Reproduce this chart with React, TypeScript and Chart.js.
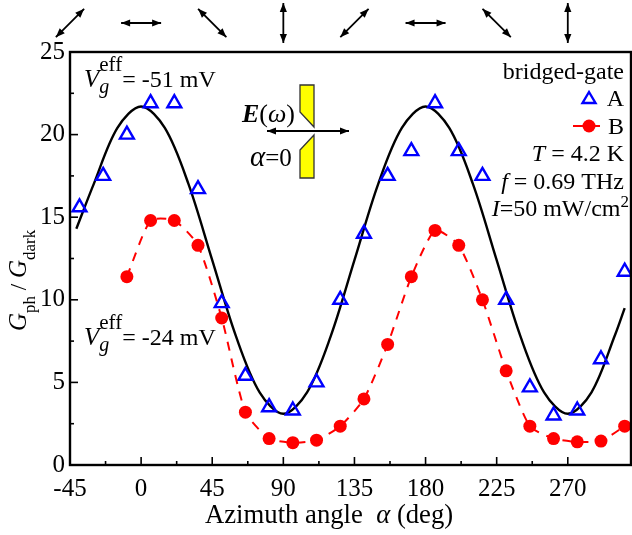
import React, { useEffect, useRef } from "react";
import { Chart, registerables } from "chart.js";

Chart.register(...registerables);

const angles = [-39, -24, -9, 6, 21, 36, 51, 66, 81, 96, 111, 126, 141, 156, 171, 186, 201, 216, 231, 246, 261, 276, 291, 306];
const seriesA = [15.6, 17.5, 20, 21.9, 21.9, 16.7, 9.8, 5.4, 3.5, 3.3, 5, 10, 14, 17.5, 19, 21.9, 19, 17.5, 10, 4.7, 3, 3.3, 6.4, 11.7];
const anglesB = [-9, 6, 21, 36, 51, 66, 81, 96, 111, 126, 141, 156, 171, 186, 201, 216, 231, 246, 261, 276, 291, 306];
const seriesB = [11.4, 14.8, 14.8, 13.3, 8.9, 3.2, 1.6, 1.35, 1.5, 2.35, 4, 7.3, 11.4, 14.2, 13.3, 10, 5.7, 2.35, 1.6, 1.4, 1.45, 2.35];
const fitAngles = [-41, -30, -15, 0, 15, 30, 45, 60, 75, 90, 105, 120, 135, 150, 165, 180, 195, 210, 225, 240, 255, 270, 285, 300, 306];
const fitValues = [14.3, 17, 20.4, 21.7, 20.4, 17, 12.4, 7.8, 4.4, 3.1, 4.4, 7.8, 12.4, 17, 20.4, 21.7, 20.4, 17, 12.4, 7.8, 4.4, 3.1, 4.4, 7.9, 9.5];
const arrowAngles = [-45, 0, 45, 90, 135, 180, 225, 270];

const SERIF = '"Liberation Serif", "Times New Roman", serif';
type Run = { t: string; size?: number; style?: string; dy?: number; noAdv?: boolean };

function font(r: Run, base: number) {
  return `${r.style ? r.style + " " : ""}${r.size ?? base}px ${SERIF}`;
}
function drawRuns(ctx: CanvasRenderingContext2D, x: number, y: number, runs: Run[], base: number, align: "left" | "right" | "center" = "left") {
  let total = 0;
  for (const r of runs) {
    ctx.font = font(r, base);
    if (!r.noAdv) total += ctx.measureText(r.t).width;
  }
  let cx = align === "left" ? x : align === "right" ? x - total : x - total / 2;
  ctx.textAlign = "left";
  ctx.textBaseline = "alphabetic";
  ctx.fillStyle = "#000";
  for (const r of runs) {
    ctx.font = font(r, base);
    ctx.fillText(r.t, cx, y + (r.dy ?? 0));
    if (!r.noAdv) cx += ctx.measureText(r.t).width;
  }
}
function head(ctx: CanvasRenderingContext2D, x: number, y: number, a: number, len = 9, half = 3.6) {
  const c = Math.cos(a), s = Math.sin(a);
  ctx.beginPath();
  ctx.moveTo(x, y);
  ctx.lineTo(x - c * len - s * half, y - s * len + c * half);
  ctx.lineTo(x - c * len + s * half, y - s * len - c * half);
  ctx.closePath();
  ctx.fill();
}
function doubleArrow(ctx: CanvasRenderingContext2D, cx: number, cy: number, half: number, a: number) {
  const c = Math.cos(a), s = Math.sin(a);
  ctx.strokeStyle = "#000";
  ctx.fillStyle = "#000";
  ctx.lineWidth = 1.8;
  ctx.beginPath();
  ctx.moveTo(cx - c * half, cy - s * half);
  ctx.lineTo(cx + c * half, cy + s * half);
  ctx.stroke();
  head(ctx, cx + c * half, cy + s * half, a);
  head(ctx, cx - c * half, cy - s * half, a + Math.PI);
}
function poly(ctx: CanvasRenderingContext2D, pts: number[][]) {
  ctx.beginPath();
  pts.forEach((p, i) => (i ? ctx.lineTo(p[0], p[1]) : ctx.moveTo(p[0], p[1])));
  ctx.closePath();
  ctx.fillStyle = "#ffff00";
  ctx.fill();
  ctx.strokeStyle = "#333";
  ctx.lineWidth = 1.3;
  ctx.stroke();
}

const decor = {
  id: "decor",
  afterDraw(chart: any) {
    const ctx: CanvasRenderingContext2D = chart.ctx;
    const { left, right, top, bottom } = chart.chartArea;
    const xs = chart.scales.x, ys = chart.scales.y;
    ctx.save();
    ctx.strokeStyle = "#000";
    ctx.lineWidth = 1.6;
    xs.ticks.forEach((t: any) => {
      const p = xs.getPixelForValue(t.value);
      const len = t.value % 45 === 0 ? 8 : 4;
      ctx.beginPath();
      ctx.moveTo(p, bottom);
      ctx.lineTo(p, bottom - len);
      ctx.stroke();
    });
    ys.ticks.forEach((t: any) => {
      const p = ys.getPixelForValue(t.value);
      const len = t.value % 5 === 0 ? 8 : 4;
      ctx.beginPath();
      ctx.moveTo(left, p);
      ctx.lineTo(left + len, p);
      ctx.stroke();
    });
    ctx.lineWidth = 2.4;
    ctx.strokeRect(left, top, right - left, bottom - top);

    arrowAngles.forEach((a) => {
      doubleArrow(ctx, xs.getPixelForValue(a), 23, 20, (a * Math.PI) / 180);
    });

    poly(ctx, [[300, 85], [314, 85], [314, 127], [300, 112]]);
    poly(ctx, [[300, 150], [314, 135], [314, 178], [300, 178]]);
    doubleArrow(ctx, 308, 131, 41, 0);
    drawRuns(ctx, 242, 122, [{ t: "E", style: "italic bold" }, { t: "(" }, { t: "ω", style: "italic" }, { t: ")" }], 26);
    drawRuns(ctx, 250, 166, [{ t: "α", style: "italic", size: 29 }, { t: "=0" }], 25);

    const vg = (x: number, y: number, v: string) => {
      drawRuns(ctx, x, y, [
        { t: "V", style: "italic", size: 25 },
        { t: "g", style: "italic", size: 20, dy: 6, noAdv: true },
        { t: "eff", size: 21, dy: -16 },
        { t: "= " + v + " mV", size: 24 },
      ], 24);
    };
    vg(84, 87, "-51");
    vg(84, 345, "-24");

    const R = 624;
    drawRuns(ctx, R, 79, [{ t: "bridged-gate" }], 24, "right");
    drawRuns(ctx, R, 106, [{ t: "A" }], 24, "right");
    drawRuns(ctx, R, 134, [{ t: "B" }], 24, "right");
    drawRuns(ctx, R, 161, [{ t: "T", style: "italic" }, { t: " = 4.2 K" }], 24, "right");
    drawRuns(ctx, R, 189, [{ t: "f", style: "italic" }, { t: " = 0.69 THz" }], 24, "right");
    drawRuns(ctx, 629, 216, [{ t: "I", style: "italic" }, { t: "=50 mW/cm" }, { t: "2", size: 17, dy: -9 }], 24, "right");

    ctx.strokeStyle = "#0000ff";
    ctx.lineWidth = 2.4;
    ctx.beginPath();
    ctx.moveTo(589, 92); ctx.lineTo(595.5, 103); ctx.lineTo(582.5, 103);
    ctx.closePath();
    ctx.stroke();
    ctx.strokeStyle = "#ff0000";
    ctx.lineWidth = 2;
    ctx.beginPath();
    ctx.moveTo(573, 126); ctx.lineTo(600, 126);
    ctx.stroke();
    ctx.fillStyle = "#ff0000";
    ctx.beginPath();
    ctx.arc(589, 126, 6.5, 0, Math.PI * 2);
    ctx.fill();

    drawRuns(ctx, 205, 523, [{ t: "Azimuth angle  " }, { t: "α", style: "italic" }, { t: " (deg)" }], 26.7);
    ctx.translate(26, 331);
    ctx.rotate(-Math.PI / 2);
    drawRuns(ctx, 0, 0, [
      { t: "G", style: "italic", size: 25 },
      { t: "ph", size: 17, dy: 9 },
      { t: " / ", size: 23 },
      { t: "G", style: "italic", size: 25 },
      { t: "dark", size: 17, dy: 9 },
    ], 25);
    ctx.restore();
  },
};

export default function App() {
  const ref = useRef<HTMLCanvasElement>(null);
  useEffect(() => {
    document.body.style.margin = "0";
    const zip = (xs: number[], ys: number[]) => xs.map((x, i) => ({ x, y: ys[i] }));
    const chart = new Chart(ref.current!, {
      type: "line",
      data: {
        datasets: [
          {
            label: "B",
            data: zip(anglesB, seriesB),
            borderColor: "#ff0000",
            backgroundColor: "#ff0000",
            borderWidth: 2,
            borderDash: [9, 8],
            tension: 0.2,
            pointStyle: "circle",
            pointRadius: 6.5,
            pointBorderWidth: 0,
          },
          {
            label: "A",
            data: zip(angles, seriesA),
            showLine: false,
            borderColor: "#0000ff",
            backgroundColor: "rgba(0,0,0,0)",
            pointStyle: "triangle",
            pointRadius: 8,
            pointBorderWidth: 2.4,
          },
          {
            label: "fit",
            data: zip(fitAngles, fitValues),
            borderColor: "#000",
            borderWidth: 2.4,
            tension: 0.33,
            pointRadius: 0,
          },
        ],
      } as any,
      options: {
        animation: false,
        responsive: false,
        layout: { autoPadding: false, padding: { top: 52, right: 1, left: 0, bottom: 0 } },
        plugins: { legend: { display: false }, tooltip: { enabled: false } },
        scales: {
          x: {
            type: "linear",
            min: -45,
            max: 310,
            afterFit: (s: any) => { s.height = 70; s.paddingRight = 0; s.paddingLeft = 0; },
            afterBuildTicks: (s: any) => {
              s.ticks = s.ticks.filter((t: any) => t.value <= 292.5);
            },
            grid: { display: false, drawTicks: false },
            border: { display: false },
            ticks: {
              stepSize: 22.5,
              autoSkip: false,
              maxRotation: 0,
              padding: 9,
              color: "#000",
              font: { family: SERIF, size: 25 },
              callback: (v: any) => (Number(v) % 45 === 0 ? String(v) : ""),
            },
          },
          y: {
            type: "linear",
            min: 0,
            max: 25,
            afterFit: (s: any) => { s.width = 70; s.paddingTop = 0; s.paddingBottom = 0; },
            grid: { display: false, drawTicks: false },
            border: { display: false },
            ticks: {
              stepSize: 2.5,
              autoSkip: false,
              padding: 5,
              color: "#000",
              font: { family: SERIF, size: 25 },
              callback: (v: any) => (Number(v) % 5 === 0 ? String(v) : ""),
            },
          },
        },
      },
      plugins: [decor],
    } as any);
    return () => chart.destroy();
  }, []);
  return <canvas ref={ref} width={632} height={535} style={{ display: "block" }} />;
}
